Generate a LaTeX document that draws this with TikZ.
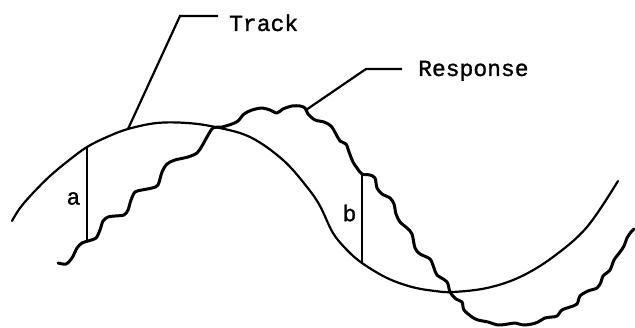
\documentclass[tikz,border=0pt]{standalone}
\usepackage{fontspec}
\setmonofont{Liberation Mono}[FakeBold=1.2]
\begin{document}
\begin{tikzpicture}[x=1pt,y=-1pt,
  trackline/.style={line width=2.2pt, line cap=round, line join=round},
  respline/.style={line width=3pt, line cap=round, line join=round},
  leader/.style={line width=2.2pt, line join=miter},
  gap/.style={line width=2.4pt},
  lbl/.style={font=\ttfamily\fontsize{23}{27}\selectfont, inner sep=0pt, anchor=base west},
  gl/.style={font=\ttfamily\fontsize{23}{27}\selectfont, inner sep=0pt}]
\useasboundingbox (0,0) rectangle (635,328);
% Track curve
\draw[trackline] plot[smooth, tension=0.6] coordinates {
 (12,221) (20,208) (33,193) (50,176) (68,161) (87,147) (107,137) (128,129)
 (157,123) (187,123) (215,127) (250,137) (283,160) (307,187) (320,206)
 (333,233) (347,250) (362,263) (387,278) (412,287) (435,291) (453,292)
 (487,288) (520,277) (553,257) (587,227) (618,181)};
% Response curve
\draw[respline] plot[smooth, tension=0.5] coordinates {
 (58,263) (66,264) (72,258) (77,248) (82,243) (88,241) (96,238) (100,230)
 (103,221) (108,217) (115,216) (124,215) (128,210) (131,200) (135,192)
 (142,190) (152,188) (158,185) (162,172) (167,164) (175,160) (188,157)
 (197,153) (202,146) (207,137) (213,128) (222,127) (232,124) (238,121)
 (244,114) (252,110) (262,108) (270,110) (277,113) (283,109) (292,106)
 (300,106) (305,108) (308,114) (315,120) (324,122) (331,126) (336,134)
 (340,141) (346,144) (349,152) (353,162) (357,168) (362,174) (370,175)
 (375,178) (377,188) (382,194) (390,198) (394,204) (396,214) (400,222)
 (407,228) (412,234) (415,248) (420,254) (430,259) (434,268) (437,275)
 (447,282) (450,292) (456,299) (462,302) (464,310) (472,317) (478,320)
 (488,322) (498,325) (508,324) (515,323) (523,325) (532,324) (538,322)
 (545,318) (552,317) (557,316) (562,310) (570,307) (577,304) (580,296)
 (588,291) (597,288) (601,282) (603,276) (610,270) (614,260) (620,252)
 (624,246) (627,238) (631,232) (634,229)};
% named points
\coordinate (aTop) at (87,147);
\coordinate (aBot) at (87,241);
\coordinate (bTop) at (362,174);
\coordinate (bBot) at (362,263);
\coordinate (tFoot) at (128,129);
\coordinate (tKnee) at (180,16);
\coordinate (tEnd) at (218,16);
\coordinate (rFoot) at (306,110);
\coordinate (rKnee) at (366,69);
\coordinate (rEnd) at (402,69);
% gap lines
\draw[gap] (aTop) -- (aBot);
\draw[gap] (bTop) -- (bBot);
% leaders
\draw[leader] (tFoot) -- (tKnee) -- (tEnd);
\draw[leader] (rFoot) -- (rKnee) -- (rEnd);
% labels
\node[lbl] (track) at (229,31) {Track};
\node[lbl] (resp) at (418,76) {Response};
\node[gl] (la) at (73.5,198.5) {a};
\node[gl] (lb) at (349.5,213) {b};
\end{tikzpicture}
\end{document}
